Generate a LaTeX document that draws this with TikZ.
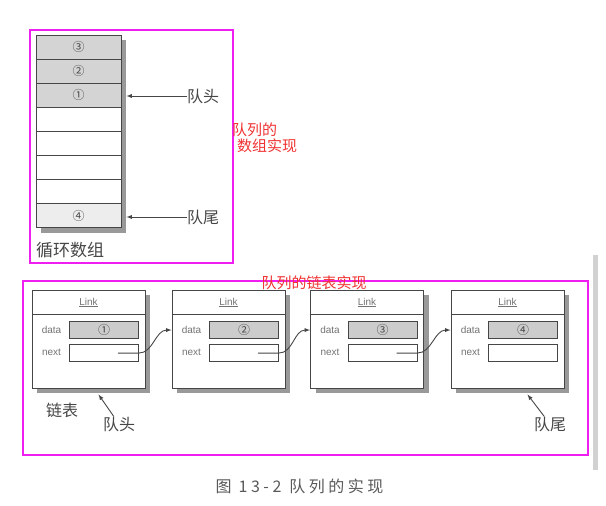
\documentclass[tikz,border=0pt]{standalone}
\usepackage{fontspec}
\setmainfont{Liberation Sans}
\newfontfamily\cjk{Noto Sans CJK SC}
\newfontfamily\cjkcap{Noto Sans CJK SC}[LetterSpace=22]
\usepackage{xcolor}
\usetikzlibrary{arrows}
\usetikzlibrary{calc}
\usetikzlibrary{shadows}

\definecolor{frame}{RGB}{240,30,240}
\definecolor{note}{RGB}{240,50,50}
\definecolor{ink}{RGB}{70,70,70}

\begin{document}
\begin{tikzpicture}[x=1pt, y=-1pt,
	line/.style={>=latex, draw=ink, line width=0.9pt},
	cell/.style={draw=ink, line width=0.9pt, minimum width=85pt, minimum height=24.1pt, inner sep=0pt, font=\cjk\fontsize{12}{12}\selectfont, text=ink},
	used/.style={cell, fill=black!17},
	linkbox/.style={draw=ink, line width=0.9pt, fill=white, minimum width=113pt, minimum height=98pt, inner sep=0pt, drop shadow={opacity=1, fill=black!40, shadow xshift=5pt, shadow yshift=-5pt}},
	slot/.style={draw=ink, line width=0.9pt, fill=white, minimum width=69pt, minimum height=17pt, inner sep=0pt, font=\cjk\fontsize{12}{12}\selectfont, text=ink},
	field/.style={text=black!55, font=\fontsize{10}{10}\selectfont, inner sep=0pt},
	zh/.style={text=ink, font=\cjk\fontsize{16}{16}\selectfont, inner sep=0pt},
	frm/.style={draw=frame, line width=2.6pt},
	remark/.style={text=note, font=\cjk\fontsize{15}{15}\selectfont, inner sep=0pt, anchor=west}]
	\useasboundingbox (0,0) rectangle (606,506);
	% scan edge
	\fill[black!18] (593,255) rectangle (598,470);
	% circular array
	\fill[black!40] (41,40) rectangle (126,233);
	\node[used] (c1) at (78.5, 47.05) {③};
	\node[used] (c2) at (78.5, 71.15) {②};
	\node[used] (c3) at (78.5, 95.25) {①};
	\node[cell, fill=white] (c4) at (78.5,119.35) {};
	\node[cell, fill=white] (c5) at (78.5,143.45) {};
	\node[cell, fill=white] (c6) at (78.5,167.55) {};
	\node[cell, fill=white] (c7) at (78.5,191.65) {};
	\node[cell, fill=black!7] (c8) at (78.5,215.75) {④};
	\node[zh] (headA) at (203, 96) {队头};
	\node[zh] (tailA) at (203,217) {队尾};
	\node[zh, anchor=west, font=\cjk\fontsize{17}{17}\selectfont] (ringLabel) at (36,250) {循环数组};
	\draw[->, line, shorten >=5pt] (headA.west) -- (c3.east |- headA.west);
	\draw[->, line, shorten >=5pt] (tailA.west) -- (c8.east |- tailA.west);
	\draw[frm] (30,30) rectangle (233,263);
	\node[remark] (note1) at (232,130) {队列的};
	\node[remark] (note2) at (237,146) {数组实现};
	% linked list
	\node[linkbox] (link1) at ( 88.5,339) {};
	\node[linkbox] (link2) at (228.5,339) {};
	\node[linkbox] (link3) at (367.0,339) {};
	\node[linkbox] (link4) at (507.5,339) {};
	\foreach \k/\t in {1/①,2/②,3/③,4/④} {
		\draw[line] ($(link\k.north west)+(0,25)$) -- ($(link\k.north east)+(0,25)$);
		\node[field] (title\k) at ($(link\k.north)+(0,13)$) {\underline{Link}};
		\node[field] (dl\k) at ($(link\k.north west)+(20,40)$) {data};
		\node[field] (nl\k) at ($(link\k.north west)+(20,63)$) {next};
		\node[slot, fill=black!20] (d\k) at ($(link\k.north west)+(72.5,40.5)$) {\t};
		\node[slot] (n\k) at ($(link\k.north west)+(72.5,63.5)$) {};
	}
	\coordinate (p1) at ($(n1.center)+(14,0)$);
	\coordinate (p2) at ($(n2.center)+(14,0)$);
	\coordinate (p3) at ($(n3.center)+(14,0)$);
	\draw[->, line] (p1) -- (n1.east) .. controls +(14,0) and +(-16,0) .. (link2.west |- d2);
	\draw[->, line] (p2) -- (n2.east) .. controls +(14,0) and +(-16,0) .. (link3.west |- d3);
	\draw[->, line] (p3) -- (n3.east) .. controls +(14,0) and +(-16,0) .. (link4.west |- d4);
	\node[zh] (listLabel) at (62,410) {链表};
	\node[zh] (headL) at (119,424) {队头};
	\node[zh] (tailL) at (550,424) {队尾};
	\coordinate (h1) at ($(link1.south)+(10,6)$);
	\coordinate (h4) at ($(link4.south)+(20,6)$);
	\draw[->, line] (headL) -- (h1);
	\draw[->, line] (tailL) -- (h4);
	\draw[frm] (23,281) rectangle (588,455);
	\node[remark, anchor=center] (note3) at (314,283) {队列的链表实现};
	% caption
	\node[text=black!65, font=\cjkcap\fontsize{16}{16}\selectfont, anchor=west] (caption) at (212,486) {图 13-2\hspace{8pt}队列的实现};
\end{tikzpicture}
\end{document}
